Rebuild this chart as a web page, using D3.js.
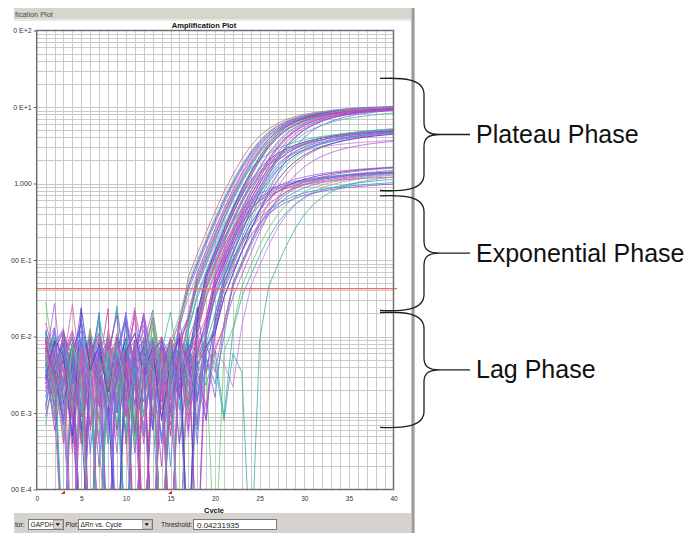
<!DOCTYPE html>
<html><head><meta charset="utf-8">
<script src="https://cdn.jsdelivr.net/npm/d3@7"></script>
<style>
body{margin:0;background:#fff}
svg{display:block}
text{font-family:"Liberation Sans",Arial,sans-serif}
</style>
</head><body>
<svg id="c" width="689" height="533"></svg>
<script>
// ---------------- data ----------------
const cycles = [1,2,3,4,5,6,7,8,9,10,11,12,13,14,15,16,17,18,19,20,21,22,23,24,25,26,27,28,29,30,31,32,33,34,35,36,37,38,39,40];
const xTickValues = [0,5,10,15,20,25,30,35,40];
const yTickValues = [1e-4,1e-3,1e-2,1e-1,1,10,100];
// tick labels as they appear in the (left-cropped) screenshot
const yTickLabels = ["00 E-4","00 E-3","00 E-2","00 E-1","1.000","0 E+1","0 E+2"];
const threshold = 0.04231935;
const baselineMarkers = [3, 15];
const phaseLabels = ["Plateau Phase","Exponential Phase","Lag Phase"];
const phaseTop = [23.6, 0.69, 0.0206];
const phaseBottom = [0.81, 0.0219, 0.00065];

// ΔRn per cycle (1..40); negative values lie below the log axis
const wellsHigh = [
[.011,.0028,-.002,.0065,.0009,.0042,.019,-.001,.0055,.0014,.009,.0033,-.002,.0075,.0024,.016,.045,.09,.175,.33,.6,1.02,1.65,2.5,3.5,4.6,5.6,6.4,7.1,7.7,8.1,8.5,8.8,9.05,9.25,9.4,9.55,9.7,9.8,9.9],
[.028,.0045,.0007,.008,-.003,.0052,.0023,.011,.0006,.0068,-.001,.0031,.013,.0011,.0047,.014,.032,.066,.13,.25,.46,.8,1.32,2.05,3.0,4.0,5.0,5.9,6.6,7.2,7.7,8.1,8.45,8.75,9.0,9.2,9.35,9.5,9.6,9.7],
[.0052,.011,.0016,-.002,.0072,.0026,.021,.0008,.0039,-.001,.009,.0029,.0062,-.002,.0035,.01,.018,.045,.09,.175,.33,.6,1.02,1.65,2.5,3.5,4.6,5.6,6.4,7.1,7.7,8.1,8.5,8.8,9.05,9.25,9.4,9.55,9.7,9.8],
[.0021,.0078,.013,.0009,.0046,-.002,.011,.0033,.0005,.0069,.024,-.001,.0052,.0017,.0095,.0027,.021,.06,.12,.23,.43,.78,1.3,2.1,3.1,4.2,5.2,6.1,6.9,7.5,8.0,8.4,8.7,9.0,9.2,9.4,9.55,9.7,9.8,9.9],
[.012,.0036,-.001,.0068,.0011,.0094,.0025,-.002,.0057,.018,.0007,.0041,.0085,-.003,.0048,.0022,.012,.032,.066,.13,.25,.46,.8,1.32,2.05,3.0,4.0,5.0,5.8,6.5,7.1,7.6,8.0,8.3,8.6,8.85,9.05,9.2,9.35,9.45],
[.0065,.001,.0047,.026,.0028,.0082,-.002,.0033,.011,.0005,-.001,.0071,.015,.0019,.0054,-.001,.0092,.019,.06,.12,.23,.43,.78,1.3,2.1,3.1,4.2,5.2,6.1,6.8,7.4,7.9,8.3,8.6,8.9,9.1,9.3,9.45,9.6,9.7],
[.0034,.0098,.0013,-.002,.0073,.0024,.017,.0049,.0007,.0058,.011,.0026,-.003,.0045,.0088,.0004,.0066,.016,.045,.09,.175,.33,.6,1.02,1.65,2.5,3.5,4.6,5.5,6.3,7.0,7.5,7.9,8.3,8.6,8.85,9.05,9.2,9.35,9.5],
[.0095,.0041,.0004,.0078,.0022,.012,.0012,.0051,-.001,.0031,.022,.0056,.0009,.0072,-.002,.011,.0038,.011,.032,.066,.13,.25,.46,.8,1.32,2.05,3.0,4.0,4.9,5.8,6.5,7.1,7.6,8.0,8.3,8.6,8.85,9.05,9.2,9.35],
[.0048,.027,.002,.0071,.0006,.0035,.0098,-.002,.0055,.0024,.0082,.014,.0015,.0039,-.001,.0068,.0005,.0092,.018,.06,.12,.23,.43,.78,1.3,2.1,3.1,4.1,5.1,6.0,6.7,7.3,7.8,8.2,8.5,8.8,9.0,9.2,9.35,9.5],
[.0085,.0027,.011,.0008,.0047,.0093,-.001,.0062,.019,.0004,.0039,.0077,-.002,.0098,.0033,.0017,.0081,-.001,.015,.045,.09,.175,.33,.6,1.02,1.65,2.5,3.5,4.5,5.4,6.2,6.8,7.3,7.7,8.1,8.4,8.65,8.85,9.0,9.15],
[.0024,.0064,.012,.0031,-.002,.0082,.0043,.001,.0097,.0026,.0055,.02,.0006,.0071,.0036,.011,-.001,.0047,.0008,.019,.06,.12,.23,.43,.78,1.3,2.1,3.0,4.0,5.0,5.8,6.5,7.1,7.6,8.0,8.3,8.55,8.75,8.9,9.05],
[.0072,.0019,.0095,.0039,.017,.0003,.0054,.0088,-.001,-.002,.0063,.012,.0028,.0047,.0012,.0083,.017,.05,.1,.19,.36,.66,1.12,1.8,2.7,3.8,4.9,5.9,6.8,7.5,8.1,8.6,9.0,9.3,9.55,9.75,9.9,10.0,10.1,10.2],
[.0041,.013,.0007,.0056,.0097,.0021,.0074,-.003,.0044,.021,.0032,.0014,.0089,.0004,.0023,.013,.04,.08,.16,.3,.55,.95,1.55,2.35,3.3,4.3,5.2,6.0,6.7,7.2,7.6,8.0,8.3,8.5,8.7,8.85,9.0,9.1,9.2,9.3],
[.011,.0043,.0072,.0012,.0096,.0032,-.001,.0063,.0022,.0088,.0004,.001,.016,.0028,.0071,-.002,.0056,.0036,.012,.032,.066,.13,.25,.46,.8,1.3,2.0,2.85,3.7,4.5,5.2,5.8,6.3,6.75,7.1,7.4,7.7,7.95,8.15,8.35],
[.003,.0088,.0055,.0005,.023,.0036,.0081,.0016,-.002,.0064,.011,.0033,.0072,.0008,.0048,.0096,-.001,.02,.065,.13,.25,.47,.85,1.42,2.25,3.3,4.4,5.5,6.4,7.2,7.8,8.3,8.7,9.0,9.3,9.5,9.65,9.8,9.9,10.0],
[.015,.0055,.0025,.0081,.0004,.0064,.011,.0021,.0047,.0009,.0089,-.002,.0058,.0099,.0005,.0073,.018,.055,.11,.21,.4,.72,1.2,1.9,2.8,3.8,4.8,5.7,6.4,7.0,7.5,7.9,8.2,8.5,8.7,8.9,9.05,9.2,9.3,9.4]
];
const wellsMid = [
[.0056,.0016,.0088,.0038,.024,-.001,.0047,.0081,.0013,.0064,.0003,.0097,.0006,.0072,.0043,.0024,-.002,.014,.045,.088,.17,.32,.56,.9,1.32,1.78,2.22,2.62,2.98,3.28,3.54,3.76,3.95,4.1,4.24,4.36,4.47,4.56,4.65,4.72],
[.0096,.0033,.0007,.0064,.012,.0044,.0002,.0079,-.002,.0048,.019,.0028,.0071,.0004,.0056,.0094,.0017,.0065,.015,.05,.1,.19,.36,.62,1.0,1.47,1.98,2.47,2.9,3.3,3.64,3.93,4.18,4.39,4.56,4.71,4.85,4.97,5.07,5.17],
[.0024,.0079,.0052,.011,.0011,.0071,.0038,-.001,.0096,.0056,.002,.0082,.022,.0032,-.002,.0064,.0088,.0004,.013,.045,.088,.17,.32,.56,.9,1.32,1.78,2.22,2.62,2.98,3.28,3.54,3.76,3.95,4.1,4.24,4.36,4.47,4.56,4.65],
[.012,.0044,.0081,.0004,.0056,.0097,.0028,.0072,.001,.016,.004,-.002,.006,.0089,.0022,.0073,.0048,.019,.06,.117,.22,.41,.7,1.1,1.56,2.03,2.47,2.86,3.2,3.49,3.74,3.95,4.13,4.28,4.41,4.52,4.62,4.71,4.79,4.86],
[.0044,.0097,.0015,.0072,.0034,.013,.0007,.0052,.0088,-.001,.0064,.0028,.021,.0044,.0009,.0081,-.002,.0022,.0074,.014,.045,.088,.17,.32,.56,.9,1.32,1.78,2.22,2.62,2.98,3.28,3.54,3.76,3.95,4.1,4.24,4.36,4.47,4.56],
[.0072,.0012,.0052,.0098,.0028,.0064,-.003,.0089,.004,.0006,.0072,.017,.0034,.006,.0002,.0097,.0044,.0072,.012,.033,.066,.128,.245,.44,.73,1.1,1.53,1.96,2.36,2.72,3.04,3.31,3.54,3.74,3.91,4.06,4.19,4.3,4.4,4.49],
[.0081,.013,.0034,.0008,.0064,.0044,.0097,.0016,-.002,.0072,.0052,.019,.003,.006,.0005,.0089,.016,.045,.086,.16,.29,.49,.76,1.08,1.42,1.75,2.05,2.31,2.53,2.72,2.88,3.02,3.14,3.25,3.34,3.42,3.49,3.55,3.61,3.66],
[.0034,.0072,.011,.0019,.006,-.002,.0081,.0044,.025,.0028,.0005,.0064,.0096,.004,.0072,.0011,.0097,.0052,.0081,.02,.06,.12,.23,.43,.74,1.16,1.65,2.15,2.62,3.04,3.4,3.71,3.98,4.2,4.4,4.57,4.72,4.85,4.96,5.06],
[.0097,.0028,.0064,.0003,.0089,.0052,.0018,.012,.004,.0072,-.001,.006,.018,.0022,.0064,.0099,.0008,.0052,.0081,.0034,.015,.045,.088,.17,.32,.56,.9,1.32,1.78,2.22,2.62,2.98,3.28,3.54,3.76,3.95,4.1,4.24,4.36,4.47],
[.0052,.0097,.001,.0072,.0034,.011,.006,.0004,.0081,-.002,.0044,.0089,.0022,.0064,.021,.0034,.006,.012,.035,.07,.14,.27,.49,.81,1.23,1.7,2.18,2.63,3.04,3.4,3.71,3.98,4.21,4.41,4.58,4.73,4.86,4.98,5.08,5.18],
[.0089,.0023,.006,.012,.004,.0007,.0072,.0097,.0028,.0064,-.002,.0052,.0089,.0014,.0072,.016,.0034,.006,.017,.06,.117,.22,.41,.7,1.1,1.56,2.03,2.47,2.86,3.2,3.49,3.74,3.95,4.13,4.28,4.41,4.52,4.62,4.71,4.79],
[.0064,.004,.0097,.0014,.0081,-.001,.0052,.0089,.0028,.0072,.0005,.02,.0044,.0081,.0022,-.002,.0064,.0097,.004,.0072,.013,.033,.064,.122,.23,.4,.64,.95,1.3,1.65,1.98,2.28,2.54,2.76,2.95,3.11,3.25,3.37,3.47,3.56]
];
const wellsLow = [
[.0072,.0028,.011,.0052,.0009,.0081,.004,.023,-.002,.006,.0089,.0021,.0064,.0034,.0097,.0052,.0006,.014,.045,.085,.155,.26,.39,.53,.66,.78,.88,.96,1.03,1.09,1.14,1.18,1.22,1.26,1.29,1.32,1.35,1.37,1.39,1.41],
[.004,.0089,.0013,.0064,.0097,.0034,.0004,.0081,.0052,.018,.0022,.0072,-.001,.006,.0089,.004,.0072,.0016,.013,.05,.095,.175,.3,.45,.62,.78,.92,1.04,1.14,1.22,1.29,1.35,1.4,1.45,1.49,1.53,1.56,1.59,1.62,1.65],
[.011,.0052,.0022,.0081,-.003,.0064,.0097,.0034,.0072,.001,.0052,.02,.004,.0002,.0072,.0089,.0044,.0064,.013,.045,.085,.155,.26,.39,.53,.66,.78,.88,.96,1.03,1.09,1.14,1.18,1.22,1.26,1.29,1.32,1.35,1.37,1.39],
[.0028,.0072,.0044,.0097,.0006,.006,.0089,.0024,.0064,.016,-.002,.0052,.0081,.0034,.0015,.0089,.006,-.001,.0072,.012,.042,.075,.13,.21,.3,.4,.49,.57,.64,.7,.75,.79,.83,.86,.89,.91,.93,.95,.97,.98],
[.0097,.0018,.0072,.004,.0089,.0064,-.001,.0052,.022,.0028,.0081,.0005,.006,.0089,.0034,.0072,.0044,.018,.06,.11,.195,.315,.46,.6,.73,.84,.93,1.0,1.07,1.12,1.17,1.21,1.25,1.28,1.31,1.34,1.36,1.38,1.4,1.42],
[.0052,.012,.0034,.0072,.0011,.0089,.0044,-.002,.0064,.019,.0028,.006,.0007,.0089,.004,.0072,.0022,.011,.0052,.0016,.015,.045,.085,.155,.26,.39,.53,.66,.78,.88,.96,1.03,1.09,1.14,1.18,1.22,1.26,1.29,1.32,1.35],
[.0081,.0034,.0008,.0064,.015,.0044,.0072,.0019,.0097,-.001,.006,.0089,.0034,.0064,.001,.0081,.0052,.024,.0034,.016,.05,.095,.175,.3,.45,.62,.78,.92,1.04,1.14,1.22,1.29,1.35,1.4,1.45,1.49,1.53,1.56,1.59,1.62],
[.006,.0097,.0022,.0072,.0004,.0052,.0089,.0034,.0081,.0011,-.002,.0064,.017,.0028,.006,.0089,.0013,.0072,.004,-.001,.0064,.013,.045,.085,.155,.26,.39,.53,.66,.78,.88,.96,1.03,1.09,1.14,1.18,1.22,1.26,1.29,1.32],
[.0034,.0081,.012,.0014,.006,.0089,.0028,.0064,-.002,.0089,.0044,.0072,.0006,.0097,.0052,.0022,.0072,.004,.01,.033,.06,.105,.17,.26,.35,.45,.54,.62,.69,.75,.8,.84,.87,.9,.93,.95,.97,.99,1.01,1.03],
[.0089,.0044,.0072,.0017,.011,.0034,.0064,.0005,.0081,.0052,.019,.0022,.0072,-.001,.006,.0089,.0034,.0081,.0011,.0064,.0044,.0022,.014,.045,.085,.155,.26,.39,.53,.66,.78,.88,.96,1.03,1.09,1.14,1.18,1.22,1.26,1.29],
[.0064,.0028,.0089,.0044,.001,.0072,.011,.0034,.006,-.002,.0081,.004,.0097,.0022,.0064,.0052,.0089,.0016,.0072,.0044,.0008,.006,.0034,-.003,.009,.045,.085,.155,.26,.39,.53,.66,.78,.88,.96,1.03,1.09,1.14,1.18,1.22],
[.0097,.0024,.006,.0097,.004,.0072,.0008,.0052,.0089,.0034,.02,-.001,.0064,.0044,.0081,.0018,.006,.0097,.0034,.0064,.014,.05,.095,.175,.3,.45,.62,.78,.92,1.04,1.14,1.22,1.29,1.35,1.4,1.45,1.49,1.53,1.56,1.59]
];
const wellsExtra = [
[.0012,.0065,-.002,.0031,.0006,.011,.0018,-.001,.0045,.0009,.0072,-.003,.0024,.0005,.0088,.0015,.012,.036,.072,.142,.27,.5,.86,1.4,2.15,3.1,4.1,5.05,5.85,6.55,7.15,7.65,8.05,8.4,8.7,8.95,9.15,9.32,9.46,9.58],
[.0035,.0008,.0091,-.002,.0019,.0052,.0004,-.001,.0076,.0013,.0038,-.002,.0061,.0011,.0029,.014,.06,.12,.23,.43,.78,1.3,2.1,3.1,4.2,5.2,6.1,6.9,7.5,8.0,8.4,8.7,9.0,9.2,9.4,9.55,9.7,9.8,9.9,10.0],
[.0007,.0044,.0015,.0083,-.001,.0026,.0005,.0097,.0022,-.002,.0058,.001,.0035,.0068,-.001,.0042,.013,.06,.117,.22,.41,.7,1.1,1.56,2.03,2.47,2.86,3.2,3.49,3.74,3.95,4.13,4.28,4.41,4.52,4.62,4.71,4.79,4.86,4.92],
[.0058,.0011,-.002,.0039,.0075,.0006,.0027,-.001,.0063,.0016,.0041,.0004,.0089,.0021,-.002,.0054,.0009,.0033,.0012,.011,.045,.085,.155,.26,.39,.53,.66,.78,.88,.96,1.03,1.09,1.14,1.18,1.22,1.26,1.29,1.32,1.35,1.37],
[.0021,.0074,.0005,.0036,-.002,.0067,.0013,.0045,.0003,.0082,.0024,-.001,.0055,.0009,.0037,.0071,.0014,.013,.042,.085,.165,.31,.57,.97,1.58,2.4,3.35,4.4,5.35,6.15,6.85,7.4,7.85,8.2,8.5,8.75,8.95,9.1,9.22,9.33],
[.0009,.0032,.0068,.0014,-.003,.0049,.0023,.0091,.0006,.0036,-.001,.0062,.0017,.0044,.0007,.0078,.0025,.01,.05,.097,.186,.35,.61,.97,1.42,1.9,2.36,2.78,3.15,3.46,3.73,3.96,4.16,4.32,4.46,4.58,4.69,4.78,4.86,4.93],
[.0044,.0006,.0027,.0081,-.002,.0018,.0056,.0008,.0033,.0095,.0012,-.001,.0048,.0024,.0066,.0004,.0039,.0014,.012,.052,.105,.2,.38,.69,1.16,1.9,2.85,3.85,4.85,5.75,6.5,7.1,7.6,8.0,8.35,8.65,8.9,9.1,9.25,9.4],
[.0016,.0059,.0009,-.001,.0042,.0028,.0077,.0004,.0035,.0012,.0064,-.002,.0029,.0087,.0011,.0046,-.001,.0058,.0095,.06,.11,.195,.315,.46,.6,.73,.84,.93,1.0,1.07,1.12,1.17,1.21,1.25,1.28,1.31,1.34,1.36,1.38,1.4],
[.0067,.0019,.0038,.0005,.0085,.0023,-.002,.0047,.0011,.0072,.0031,.0006,.0054,-.001,.0036,.0015,.0079,.0025,.0008,.012,.032,.066,.13,.25,.46,.8,1.32,2.05,3.0,4.0,5.0,5.8,6.5,7.1,7.6,8.0,8.3,8.6,8.85,9.05],
[.0027,.0084,.0013,.0046,.0007,-.002,.0063,.0019,.0038,.0092,.0005,.0028,.0057,-.001,.0022,.0069,.0012,.0041,.0074,.011,.033,.066,.128,.245,.44,.73,1.1,1.53,1.96,2.36,2.72,3.04,3.31,3.54,3.74,3.91,4.06,4.19,4.3,4.4],
[.0053,.0014,.0088,.0026,.0004,.0061,-.001,.0035,.0017,.0079,.0008,.0043,-.002,.0066,.0021,.0039,.015,.048,.096,.185,.35,.63,1.07,1.72,2.6,3.6,4.7,5.7,6.5,7.2,7.75,8.2,8.55,8.85,9.1,9.3,9.45,9.6,9.72,9.82],
[.0013,.0049,.0022,.0071,.0005,.0034,-.002,.0058,.0016,.0083,.0027,.0009,.0045,-.001,.0064,.0019,.0037,.0006,.0052,.0024,.0098,.05,.093,.17,.285,.43,.585,.73,.86,.97,1.06,1.14,1.2,1.26,1.31,1.35,1.39,1.42,1.45,1.48],
[.0086,.0023,.0051,.0009,-.001,.0068,.0029,.0014,.0093,.0037,.0006,.0055,-.002,.0031,.0072,.0016,.0048,.015,.055,.11,.215,.4,.73,1.22,1.98,2.95,4.0,5.0,5.9,6.65,7.25,7.75,8.15,8.5,8.8,9.0,9.2,9.35,9.5,9.6],
[.0031,.0075,.0012,-.002,.0054,.0027,.0004,.0066,.0039,.0011,.0087,.0025,-.001,.0047,.0018,.0073,.0033,.0008,.012,.04,.078,.152,.29,.51,.83,1.23,1.67,2.1,2.49,2.84,3.14,3.4,3.62,3.81,3.97,4.11,4.23,4.33,4.42,4.5],
[.0019,.0042,.0081,.0015,.0036,-.001,.0058,.0009,.0027,.0069,.0013,.0049,-.003,.0034,.0091,.0021,.0056,.0007,.0105,.037,.075,.148,.28,.51,.88,1.43,2.2,3.15,4.15,5.1,5.95,6.65,7.25,7.75,8.15,8.5,8.8,9.05,9.25,9.4],
[.0047,.0008,.0033,.0076,.0018,-.001,.0052,.0026,.0091,.0005,.0039,.0014,.0063,-.002,.0029,.0071,.0011,.0044,.0023,.0066,.0009,.012,.033,.063,.115,.195,.3,.42,.54,.65,.74,.82,.88,.93,.98,1.02,1.05,1.08,1.11,1.13],
[.0062,.0024,.0005,.0079,.0031,-.002,.0047,.0013,.0068,.0022,.0004,.0055,.0036,-.001,.0084,.019,.05,.1,.19,.36,.65,1.1,1.76,2.65,3.65,4.75,5.75,6.55,7.25,7.8,8.25,8.6,8.9,9.15,9.35,9.5,9.65,9.78,9.88,9.97],
[.0038,.0013,.0067,.0024,.0089,-.001,.0042,.0007,.0058,.0019,.0031,.0076,.0011,-.002,.0049,.0027,.0083,.0015,.0061,.014,.052,.102,.195,.37,.64,1.02,1.47,1.94,2.38,2.77,3.11,3.4,3.64,3.85,4.03,4.18,4.31,4.42,4.52,4.6],
[.0011,.0057,.0028,-.001,.0073,.0016,.0044,.0006,.0082,.0034,-.002,.0051,.0019,.0067,.0009,.0039,.016,.068,.135,.255,.47,.84,1.38,2.2,3.2,4.3,5.3,6.2,6.95,7.55,8.05,8.45,8.8,9.1,9.3,9.5,9.65,9.78,9.88,9.97],
[.0074,.0017,.0041,.0008,.0063,-.002,.0029,.0085,.0014,.0046,.0023,.0007,.0071,-.001,.0036,.0054,.0012,.011,.041,.077,.14,.235,.35,.475,.59,.7,.79,.86,.92,.97,1.01,1.05,1.08,1.11,1.13,1.15,1.17,1.19,1.2,1.21]
];

const palette = ["#4040d0","#9a48d0","#d040a0","#3aacac","#6cc86c","#6070e8","#b860d8","#d86098","#3c98d0","#8468f0","#a048b8","#48bc98","#c880e0"];

// ---------------- layout ----------------
const W = 689, H = 533;
const svg = d3.select("#c");
svg.append("rect").attr("width", W).attr("height", H).attr("fill", "#fff");

const x = d3.scaleLinear().domain([0, 40]).range([36.7, 393.5]);
const y = d3.scaleLog().domain([1e-4, 100]).range([489.5, 30.5]);

const defs = svg.append("defs");
defs.append("clipPath").attr("id", "win").append("rect")
  .attr("x", 14).attr("y", 0).attr("width", 398).attr("height", H);
defs.append("clipPath").attr("id", "plotclip").append("rect")
  .attr("x", x(0)).attr("y", y(100)).attr("width", x(40) - x(0)).attr("height", y(1e-4) - y(100));

const win = svg.append("g").attr("clip-path", "url(#win)");

// window caption bar
win.append("rect").attr("x", 0).attr("y", 8).attr("width", 412).attr("height", 11).attr("fill", "#d8d5cf");
win.append("rect").attr("x", 0).attr("y", 19).attr("width", 412).attr("height", 2).attr("fill", "#ebe9e4");
svg.append("text").attr("x", 15).attr("y", 16.8).attr("font-size", 7.3).attr("fill", "#4a4a4a").text("fication Plot");

// chart title
win.append("text").attr("x", 204).attr("y", 28.3).attr("text-anchor", "middle")
  .attr("font-size", 7.6).attr("font-weight", "bold").attr("fill", "#111").text("Amplification Plot");

// grid
const plot = win.append("g");
plot.append("g").selectAll("line").data(x.ticks(40).filter(d => d > 0 && d < 40)).join("line")
  .attr("x1", d => Math.round(x(d)) + 0.5).attr("x2", d => Math.round(x(d)) + 0.5)
  .attr("y1", y(100)).attr("y2", y(1e-4)).attr("stroke", "#cacaca").attr("stroke-width", 1);
plot.append("g").selectAll("line").data(y.ticks().filter(d => d > 1e-4 && d < 100)).join("line")
  .attr("x1", x(0)).attr("x2", x(40))
  .attr("y1", d => Math.round(y(d)) + 0.5).attr("y2", d => Math.round(y(d)) + 0.5)
  .attr("stroke", "#cacaca").attr("stroke-width", 1);

// axes
const yAxis = d3.axisLeft(y).tickValues(yTickValues).tickFormat((d, i) => yTickLabels[i]).tickSize(3).tickPadding(2);
const yg = svg.append("g").attr("transform", `translate(${x(0)},0)`).call(yAxis);
yg.select(".domain").remove();
yg.selectAll("line").attr("stroke", "#666");
yg.selectAll("text").attr("font-size", 7).attr("fill", "#333").attr("font-family", "Liberation Sans, Arial, sans-serif");

const xAxis = d3.axisBottom(x).tickValues(xTickValues).tickSize(0).tickPadding(7);
const xg = plot.append("g").attr("transform", `translate(0,${y(1e-4)})`).call(xAxis);
xg.select(".domain").remove();
xg.selectAll("text").attr("font-size", 6.5).attr("fill", "#333").attr("font-family", "Liberation Sans, Arial, sans-serif");

win.append("text").attr("x", 214).attr("y", 512.5).attr("text-anchor", "middle")
  .attr("font-size", 7.5).attr("font-weight", "bold").attr("fill", "#111").text("Cycle");

// amplification curves
const wells = [];
for (let i = 0; i < 20; i++) {
  [wellsHigh, wellsMid, wellsLow, wellsExtra].forEach(g => { if (g[i]) wells.push(g[i]); });
}
const line = d3.line()
  .x((d, i) => x(cycles[i]))
  .y(d => y(d > 1e-5 ? d : 1e-5));
const curves = plot.append("g").attr("clip-path", "url(#plotclip)");
curves.selectAll("path").data(wells).join("path")
  .attr("d", line)
  .attr("fill", "none")
  .attr("stroke", (d, i) => palette[i % palette.length])
  .attr("stroke-width", 1)
  .attr("stroke-opacity", 0.8);

// threshold
plot.append("line").attr("x1", x(0)).attr("x2", x(40) + 3.5)
  .attr("y1", y(threshold)).attr("y2", y(threshold))
  .attr("stroke", "#f06a6a").attr("stroke-width", 1.2);

// plot frame
plot.append("rect").attr("x", x(0)).attr("y", y(100)).attr("width", x(40) - x(0)).attr("height", y(1e-4) - y(100))
  .attr("fill", "none").attr("stroke", "#707070").attr("stroke-width", 1.5);

// baseline markers
plot.selectAll("path.bm").data(baselineMarkers).join("path").attr("class", "bm")
  .attr("d", d => `M${x(d) - 2.5},${y(1e-4) + 4.5} L${x(d) + 1.5},${y(1e-4) + 4.5} L${x(d) + 1.5},${y(1e-4) + 1} Z`)
  .attr("fill", "#e02020");

// bottom control bar
win.append("rect").attr("x", 0).attr("y", 513).attr("width", 412).attr("height", 20).attr("fill", "#d6d3ce");
const ctl = svg.append("g").attr("font-size", 6.6).attr("fill", "#222");
ctl.append("text").attr("x", 15).attr("y", 526.5).text("tor:");
function combo(x0, w, label) {
  ctl.append("rect").attr("x", x0 + 0.5).attr("y", 519.5).attr("width", w).attr("height", 10)
    .attr("fill", "#fff").attr("stroke", "#7a7a7a");
  ctl.append("text").attr("x", x0 + 2.5).attr("y", 527).text(label);
  ctl.append("rect").attr("x", x0 + w - 9.5).attr("y", 520.5).attr("width", 9).attr("height", 8)
    .attr("fill", "#d6d3ce").attr("stroke", "#9a9a9a").attr("stroke-width", 0.6);
  ctl.append("path").attr("d", `M${x0 + w - 7.5},523.2 L${x0 + w - 3},523.2 L${x0 + w - 5.25},526 Z`).attr("fill", "#111");
}
combo(28, 35, "GAPDH");
ctl.append("text").attr("x", 65.5).attr("y", 526.5).text("Plot:");
combo(78, 74, "ΔRn vs. Cycle");
ctl.append("text").attr("x", 161).attr("y", 526.5).text("Threshold:");
ctl.append("rect").attr("x", 193.5).attr("y", 519.5).attr("width", 83).attr("height", 10)
  .attr("fill", "#fff").attr("stroke", "#7a7a7a");
ctl.append("text").attr("x", 197).attr("y", 527.5).attr("font-size", 8).text(threshold.toFixed(8));

// right window border
svg.append("rect").attr("x", 411).attr("y", 8).attr("width", 4).attr("height", H - 8).attr("fill", "#c4c4c4");
svg.append("rect").attr("x", 412.3).attr("y", 8).attr("width", 1.4).attr("height", H - 8).attr("fill", "#8a8a8a");

// phase annotations (braces)
const ann = svg.append("g");
phaseLabels.forEach((lab, i) => {
  const yT = y(phaseTop[i]), yB = y(phaseBottom[i]), yM = (yT + yB) / 2;
  const e = 380, v = 424, t = 470;
  const p = `M${e},${yT} C${e + 22},${yT - 1} ${v},${yT} ${v},${yT + 16} L${v},${yM - 12} C${v},${yM - 3} ${v + 5},${yM} ${v + 16},${yM} L${t},${yM}` +
            ` M${v + 16},${yM} C${v + 5},${yM} ${v},${yM + 3} ${v},${yM + 12} L${v},${yB - 16} C${v},${yB} ${e + 22},${yB + 1} ${e},${yB}`;
  ann.append("path").attr("d", p).attr("fill", "none").attr("stroke", "#1e1e1e").attr("stroke-width", 1.3);
  ann.append("text").attr("x", t + 6).attr("y", yM + 8.5).attr("font-size", 25).attr("fill", "#111").text(lab);
});
</script>
</body></html>
